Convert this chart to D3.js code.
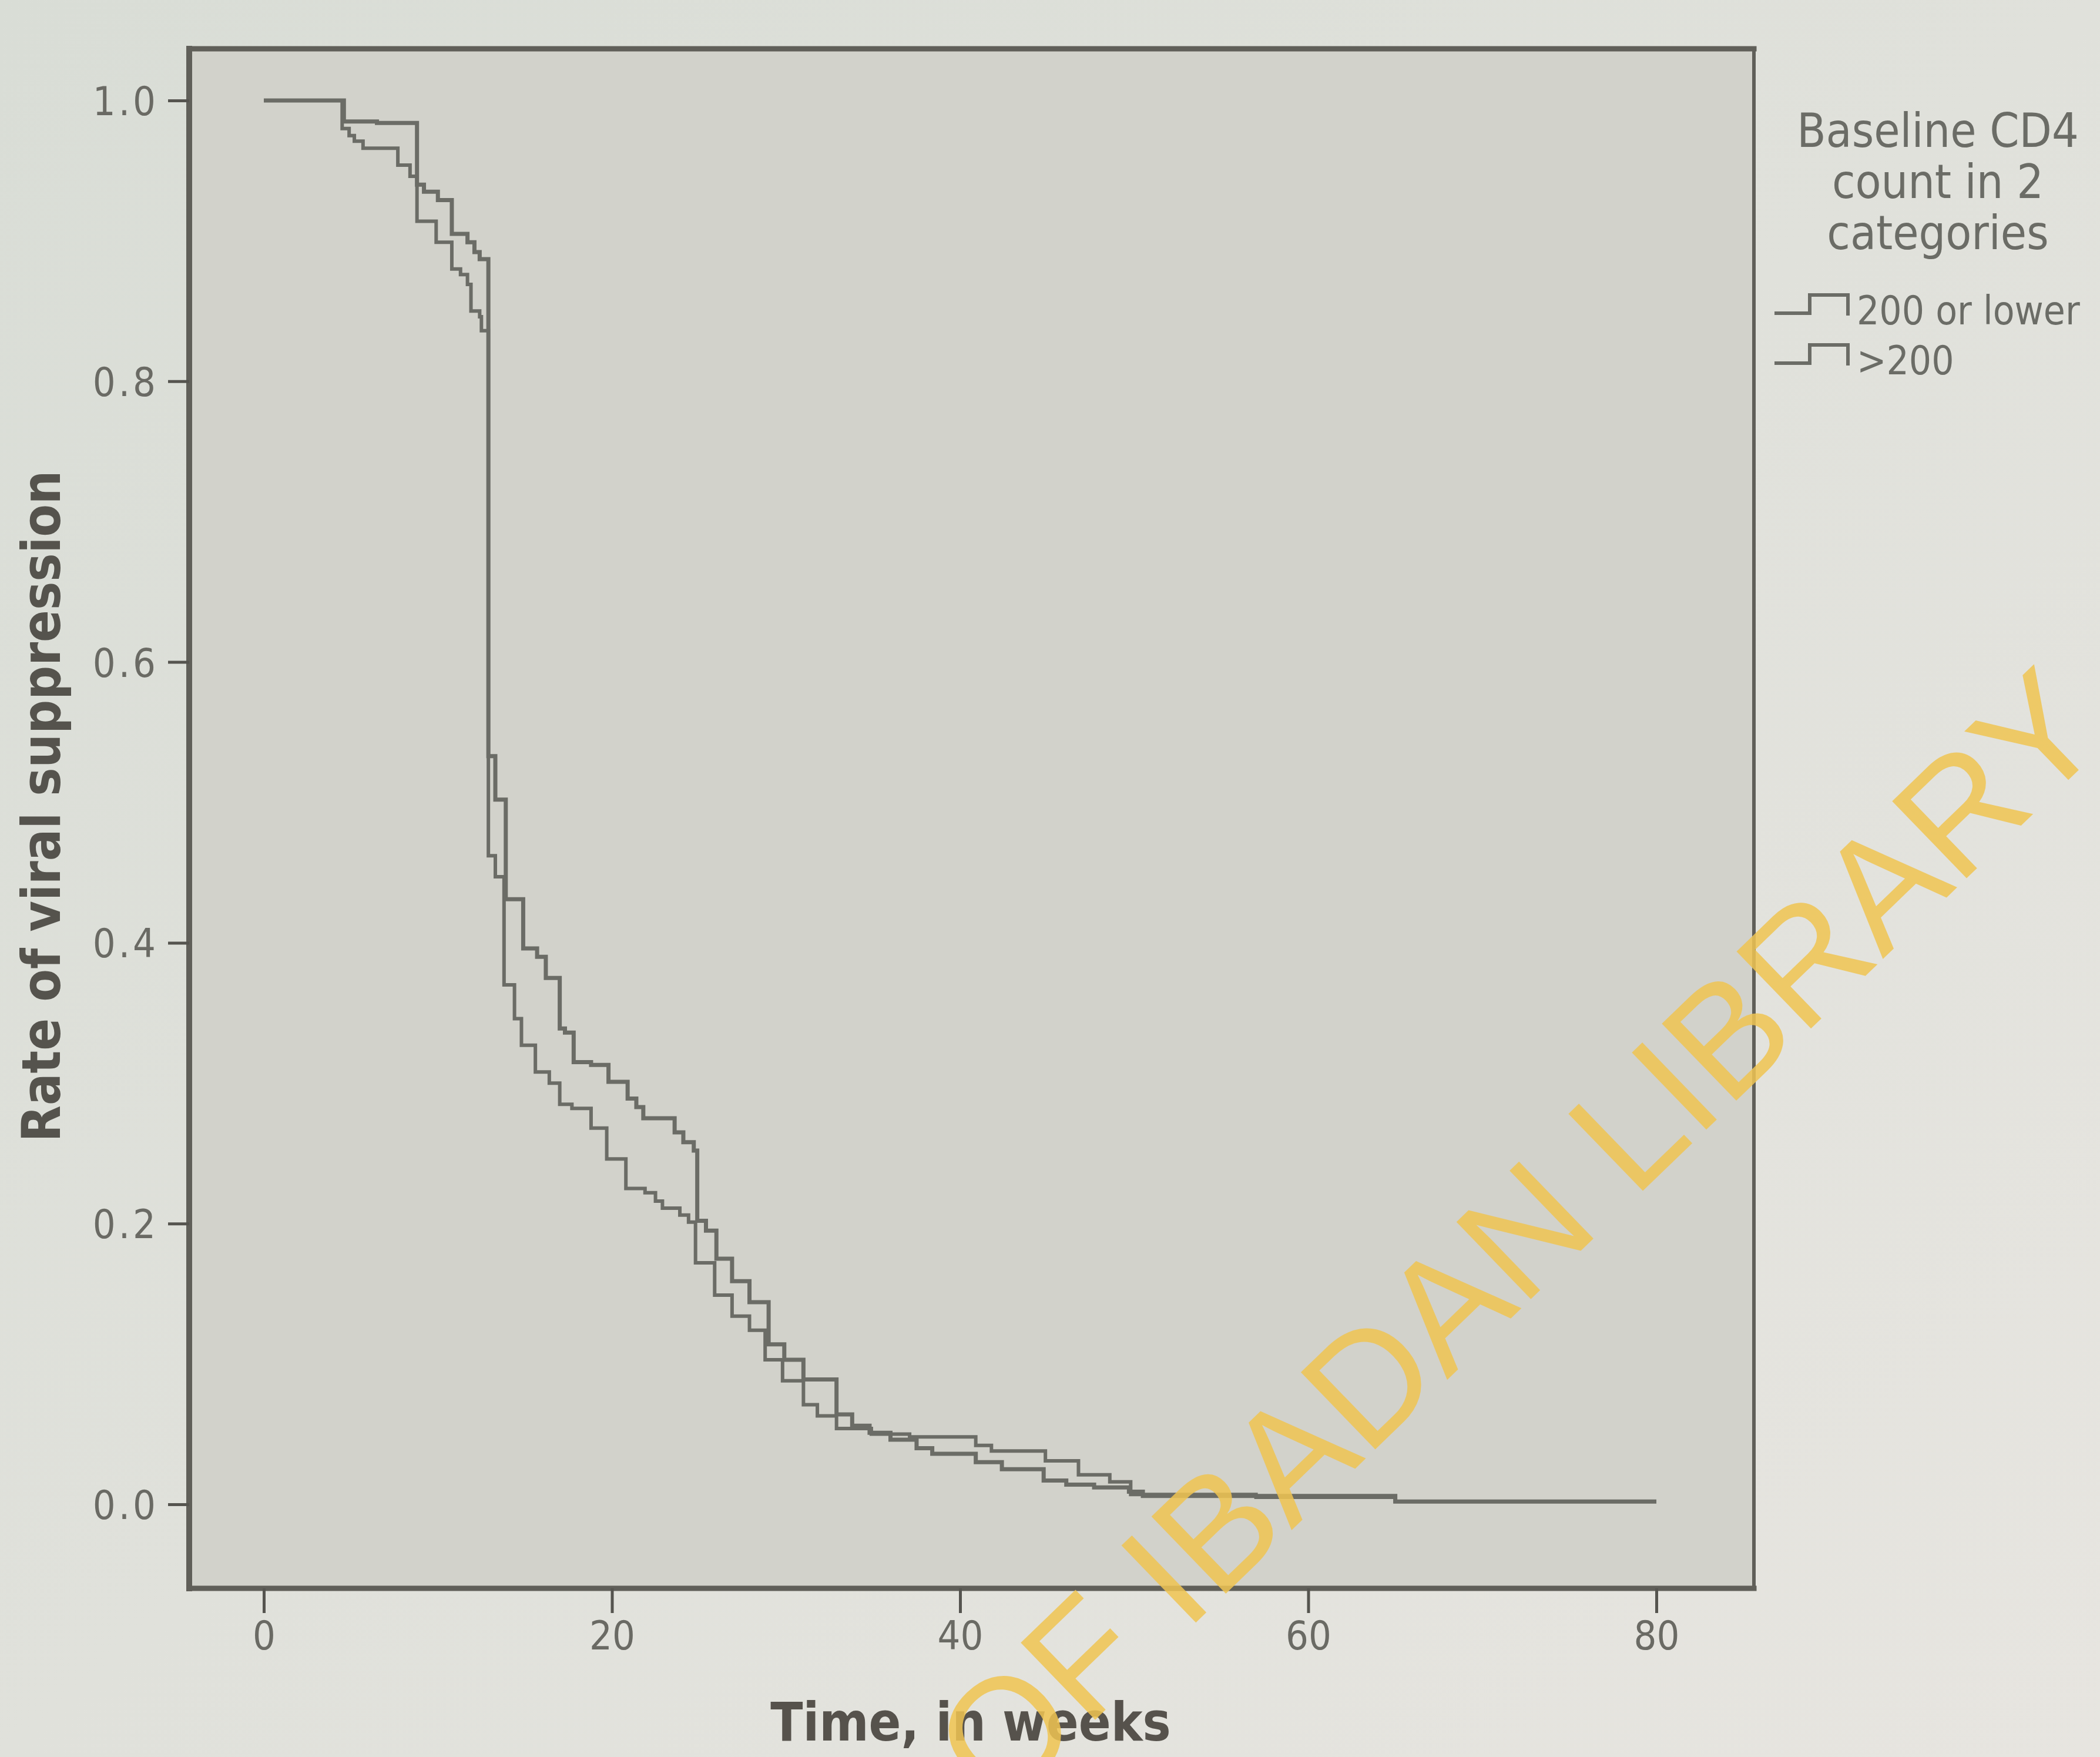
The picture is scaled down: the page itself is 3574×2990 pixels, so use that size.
<!DOCTYPE html>
<html>
<head>
<meta charset="utf-8">
<script src="https://cdnjs.cloudflare.com/ajax/libs/d3/7.8.5/d3.min.js"></script>
<style>
  html, body { margin: 0; padding: 0; background: #dde0da; }
  svg text { font-family: "DejaVu Sans Condensed", "DejaVu Sans", sans-serif; font-stretch: condensed; }
</style>
</head>
<body>
<svg id="chart" width="3574" height="2990"></svg>
<script>
// Kaplan-Meier steps (time in weeks, rate of viral suppression)
var timeLow = [0, 4.6, 6.5, 8.8, 9.2, 10.0, 10.8, 11.7, 12.1, 12.4, 12.9, 13.3, 13.9, 14.9, 15.7, 16.2, 17.0, 17.3, 17.8, 18.8,
  19.8, 20.9, 21.4, 21.8, 23.6, 24.1, 24.7, 24.9, 25.4, 26.0, 26.9, 27.9, 29.0, 29.9, 31.0, 32.9, 33.8, 34.8, 36.0, 37.5,
  38.4, 40.9, 42.4, 44.8, 46.1, 47.7, 49.7, 50.5, 65.0, 80.0];
var survLow = [1.0, 0.985, 0.984, 0.94, 0.935, 0.929, 0.905, 0.899, 0.892, 0.887, 0.533, 0.502, 0.431, 0.396, 0.39, 0.375, 0.339, 0.336, 0.315, 0.313,
  0.301, 0.289, 0.283, 0.275, 0.265, 0.258, 0.252, 0.202, 0.195, 0.175, 0.159, 0.144, 0.114, 0.103, 0.089, 0.064, 0.056, 0.051, 0.046, 0.040,
  0.036, 0.030, 0.025, 0.017, 0.014, 0.012, 0.009, 0.006, 0.002, 0.002];

var timeHigh = [0, 4.5, 4.9, 5.2, 5.7, 7.7, 8.4, 8.8, 9.9, 10.8, 11.3, 11.7, 11.9, 12.4, 12.5, 12.9, 13.3, 13.8, 14.4, 14.8,
  15.6, 16.4, 17.0, 17.7, 18.8, 19.7, 20.8, 21.9, 22.5, 22.9, 23.9, 24.4, 24.8, 25.9, 26.9, 27.9, 28.8, 29.8, 31.0, 31.8,
  32.9, 34.9, 37.1, 40.9, 41.8, 44.9, 46.8, 48.6, 49.8, 57.0, 65.0, 80.0];
var survHigh = [1.0, 0.98, 0.975, 0.971, 0.966, 0.954, 0.946, 0.914, 0.899, 0.88, 0.876, 0.869, 0.85, 0.846, 0.836, 0.462, 0.447, 0.37, 0.346, 0.327,
  0.308, 0.30, 0.285, 0.282, 0.268, 0.246, 0.225, 0.222, 0.216, 0.211, 0.206, 0.201, 0.172, 0.149, 0.134, 0.124, 0.103, 0.088, 0.071, 0.063,
  0.054, 0.050, 0.048, 0.042, 0.038, 0.031, 0.021, 0.016, 0.007, 0.005, 0.002, 0.002];

var groups = ["200 or lower", ">200"];
var xTicks = [0, 20, 40, 60, 80];
var yTicks = [0.0, 0.2, 0.4, 0.6, 0.8, 1.0];
var legendTitle = ["Baseline CD4", "count in 2", "categories"];

var ink = "#6b6c66";
var svg = d3.select("#chart");

// page and plot backgrounds
var defs = svg.append("defs");
var grad = defs.append("linearGradient").attr("id", "page").attr("x1", 0).attr("y1", 0).attr("x2", 1).attr("y2", 1);
grad.append("stop").attr("offset", "0%").attr("stop-color", "#d9ddd6");
grad.append("stop").attr("offset", "100%").attr("stop-color", "#e7e5e0");
svg.append("rect").attr("width", 3574).attr("height", 2990).attr("fill", "url(#page)");

var box = {left: 322, top: 83, right: 2985, bottom: 2703};

var x = d3.scaleLinear().domain([0, 80]).range([449, 2819]);
var y = d3.scaleLinear().domain([0, 1]).range([2560, 171]);

svg.append("rect")
  .attr("x", box.left).attr("y", box.top)
  .attr("width", box.right - box.left).attr("height", box.bottom - box.top)
  .attr("fill", "#d2d2cb");

// frame
var frame = svg.append("g").attr("stroke", "#605f59").attr("stroke-linecap", "square");
frame.append("line").attr("x1", box.left).attr("y1", box.top).attr("x2", box.right).attr("y2", box.top).attr("stroke-width", 9);
frame.append("line").attr("x1", box.right).attr("y1", box.top).attr("x2", box.right).attr("y2", box.bottom).attr("stroke-width", 6);
frame.append("line").attr("x1", box.left).attr("y1", box.top).attr("x2", box.left).attr("y2", box.bottom).attr("stroke-width", 10);
frame.append("line").attr("x1", box.left).attr("y1", box.bottom).attr("x2", box.right).attr("y2", box.bottom).attr("stroke-width", 9);

// axes
var yAxis = svg.append("g")
  .attr("transform", "translate(" + box.left + ",0)")
  .call(d3.axisLeft(y).tickValues(yTicks).tickFormat(d3.format(".1f")).tickSize(36).tickPadding(16));
var xAxis = svg.append("g")
  .attr("transform", "translate(0," + box.bottom + ")")
  .call(d3.axisBottom(x).tickValues(xTicks).tickSize(42).tickPadding(14));

[yAxis, xAxis].forEach(function(a) {
  a.select(".domain").remove();
  a.selectAll(".tick line").attr("stroke", "#55544f").attr("stroke-width", 5);
  a.selectAll(".tick text").attr("fill", "#6a6a64").style("font-size", "68px").attr("font-family", null);
});
yAxis.selectAll(".tick text").attr("dy", "0.36em").style("letter-spacing", "5px");

// axis titles
svg.append("text")
  .attr("transform", "translate(102,1372) rotate(-90)")
  .attr("text-anchor", "middle")
  .attr("fill", "#55534d")
  .style("font-size", "90px").style("font-weight", "bold")
  .text("Rate of viral suppression");

svg.append("text")
  .attr("x", 1652).attr("y", 2962)
  .attr("text-anchor", "middle")
  .attr("fill", "#56524c")
  .style("font-size", "90px").style("font-weight", "bold")
  .text("Time, in weeks");

// survival curves
var line = d3.line()
  .x(function(d) { return x(d[0]); })
  .y(function(d) { return y(d[1]); })
  .curve(d3.curveStepAfter);

var series = [d3.zip(timeLow, survLow), d3.zip(timeHigh, survHigh)];
svg.append("g").selectAll("path")
  .data(series)
  .join("path")
  .attr("d", line)
  .attr("fill", "none")
  .attr("stroke", ink)
  .attr("stroke-width", function(d, i) { return i === 0 ? 7 : 6; })
  .attr("stroke-linejoin", "miter");

// legend
var legend = svg.append("g");
legend.selectAll("text.title")
  .data(legendTitle)
  .join("text")
  .attr("class", "title")
  .attr("x", 3298)
  .attr("y", function(d, i) { return 250 + i * 87; })
  .attr("text-anchor", "middle")
  .attr("fill", ink)
  .style("font-size", "80px")
  .text(function(d) { return d; });

var items = legend.selectAll("g.item")
  .data(groups)
  .join("g")
  .attr("class", "item")
  .attr("transform", function(d, i) { return "translate(0," + (i * 85) + ")"; });

items.append("path")
  .attr("d", "M3020,533 H3080 V502 H3145 V537")
  .attr("fill", "none")
  .attr("stroke", ink)
  .attr("stroke-width", 6);

items.append("text")
  .attr("x", 3160).attr("y", 552)
  .attr("fill", ink)
  .style("font-size", "67px")
  .text(function(d) { return d; });

// watermark
svg.append("text")
  .attr("transform", "translate(1700,3085) rotate(-44)")
  .attr("fill", "#f0c552")
  .attr("opacity", 0.85)
  .style("font-family", "'Liberation Sans', Arial, sans-serif")
  .style("font-stretch", "normal")
  .style("font-size", "265px")
  .text("OF IBADAN LIBRARY");
</script>
</body>
</html>
